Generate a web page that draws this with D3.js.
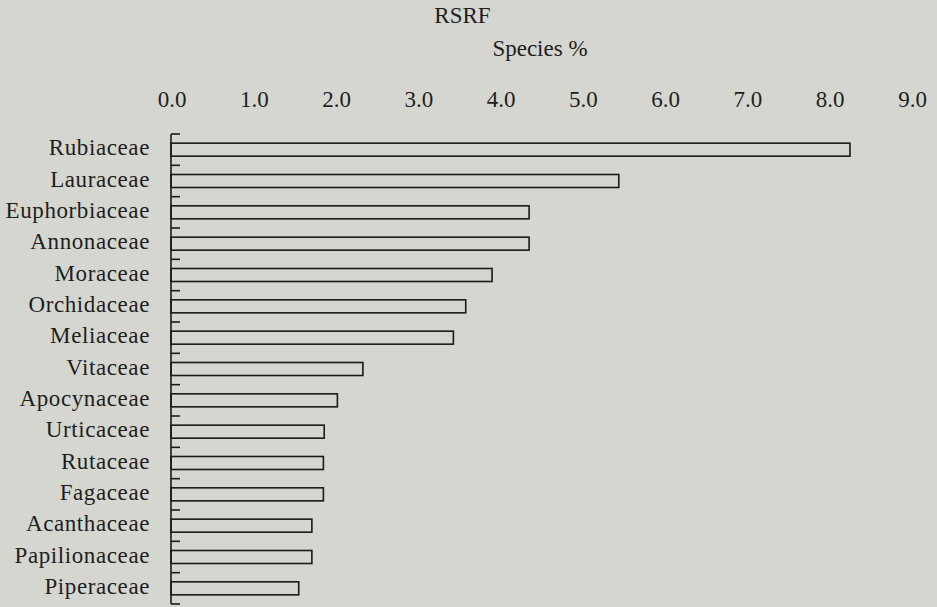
<!DOCTYPE html>
<html>
<head>
<meta charset="utf-8">
<script src="https://cdn.jsdelivr.net/npm/d3@7"></script>
<style>
  html, body { margin: 0; padding: 0; background: #d5d6d0; }
  svg { display: block; }
  text { font-family: "Liberation Serif", "Times New Roman", serif; fill: #1e1e1e; }
</style>
</head>
<body>
<svg id="chart" width="937" height="607"></svg>
<script>
const categories = ["Rubiaceae", "Lauraceae", "Euphorbiaceae", "Annonaceae", "Moraceae",
  "Orchidaceae", "Meliaceae", "Vitaceae", "Apocynaceae", "Urticaceae", "Rutaceae",
  "Fagaceae", "Acanthaceae", "Papilionaceae", "Piperaceae"];
const values = [8.24, 5.43, 4.34, 4.34, 3.89, 3.57, 3.42, 2.32, 2.01, 1.85, 1.84, 1.84, 1.70, 1.70, 1.54];
const tickValues = [0, 1, 2, 3, 4, 5, 6, 7, 8, 9];
const titleText = "RSRF";
const axisTitle = "Species %";

const svg = d3.select("#chart");
svg.append("rect").attr("width", 937).attr("height", 607).attr("fill", "#d5d6d0");

const x = d3.scaleLinear().domain([0, 9]).range([172, 912.5]);
const y = d3.scaleBand().domain(categories).range([134, 604]).paddingInner(0.58).paddingOuter(0.29);
const yb = d3.scaleBand().domain(categories).range([134, 604]);

// title
svg.append("text").attr("x", 462.5).attr("y", 23).attr("text-anchor", "middle")
  .attr("font-size", 23).text(titleText);
svg.append("text").attr("x", 540).attr("y", 56).attr("text-anchor", "middle")
  .attr("font-size", 23).text(axisTitle);

// top tick labels (no axis line in the original)
svg.append("g").selectAll("text").data(tickValues).join("text")
  .attr("x", d => x(d)).attr("y", 107).attr("text-anchor", "middle")
  .attr("font-size", 23).text(d => d3.format(".1f")(d));

// bars
svg.append("g").selectAll("rect").data(categories).join("rect")
  .attr("x", x(0) - 1)
  .attr("y", d => yb(d) + yb.bandwidth() / 2 - 6.5)
  .attr("width", (d, i) => x(values[i]) - x(0) + 1)
  .attr("height", 13)
  .attr("fill", "none")
  .attr("stroke", "#1a1a1a")
  .attr("stroke-width", 1.6);

// left axis with inward ticks at band boundaries
const axisG = svg.append("g");
axisG.append("line").attr("x1", 171).attr("x2", 171).attr("y1", 134).attr("y2", 604)
  .attr("stroke", "#1a1a1a").attr("stroke-width", 1.6);
const boundaries = categories.map(c => yb(c)).concat([yb(categories[categories.length - 1]) + yb.bandwidth()]);
axisG.selectAll("line.tk").data(boundaries).join("line").attr("class", "tk")
  .attr("x1", 171).attr("x2", 180).attr("y1", d => d).attr("y2", d => d)
  .attr("stroke", "#1a1a1a").attr("stroke-width", 1.6);

// category labels
svg.append("g").selectAll("text").data(categories).join("text")
  .attr("x", 150).attr("y", d => yb(d) + yb.bandwidth() / 2 + 5.5)
  .attr("text-anchor", "end").attr("font-size", 23).attr("letter-spacing", 0.6)
  .text(d => d);
</script>
</body>
</html>
